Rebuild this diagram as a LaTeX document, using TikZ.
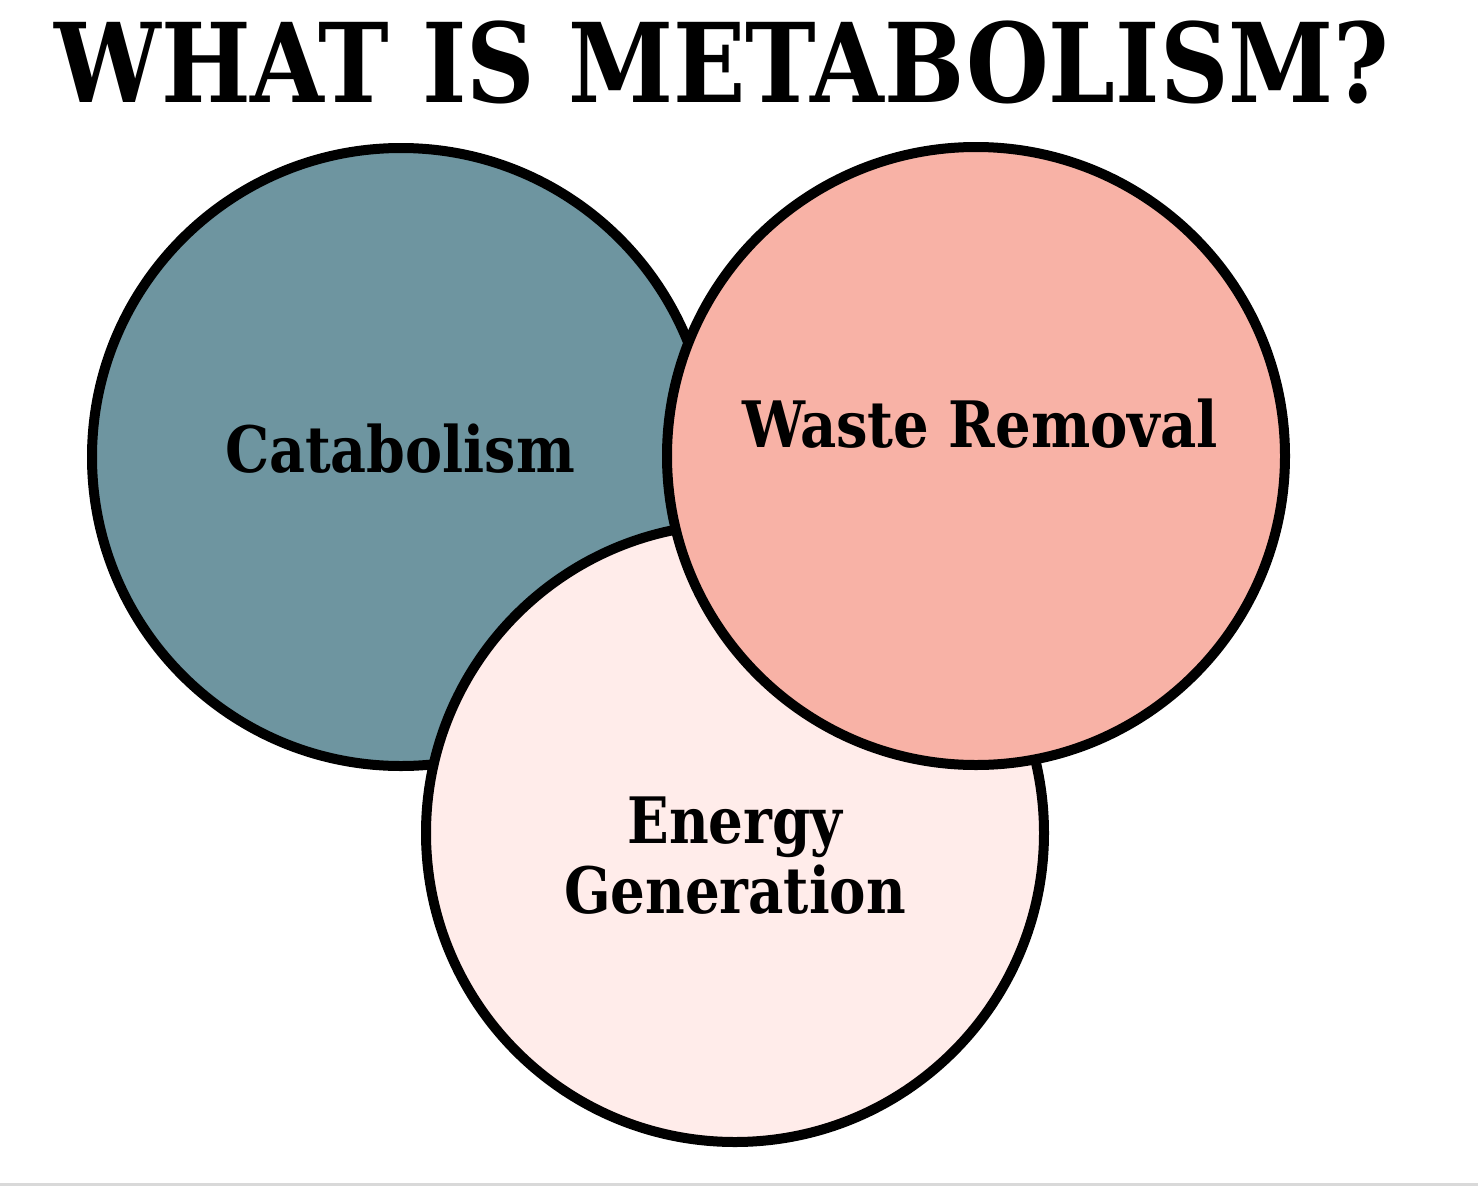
\documentclass[tikz,border=0pt]{standalone}
\usepackage{fontspec}
\usepackage{graphicx}
\setmainfont{DejaVu Serif}
\newfontfamily\titlefont{DejaVu Serif Condensed}
\definecolor{cteal}{HTML}{6E95A0}
\definecolor{csalmon}{HTML}{F8B2A6}
\definecolor{cpink}{HTML}{FFECEA}
\definecolor{cgray}{HTML}{D9D9D9}
\begin{document}
\begin{tikzpicture}[x=1pt,y=-1pt,
  blob/.style={draw=black,line width=10pt},
  lbl/.style={inner sep=0pt,anchor=base,text=black}]
\useasboundingbox (0,0) rectangle (1478,1186);
\fill[white] (0,0) rectangle (1478,1186);
\fill[cgray] (0,1183) rectangle (1478,1186);
% title
\node[lbl] (title) at (722,102) {\resizebox{1335pt}{\height}{\titlefont\bfseries\fontsize{110}{114}\selectfont WHAT IS METABOLISM?}};
% circles
\draw[blob,fill=cteal] (401,457) circle[radius=309] coordinate (cat);
\draw[blob,fill=cpink] (735,833) circle[radius=309] coordinate (ene);
\draw[blob,fill=csalmon] (976,456) circle[radius=309] coordinate (was);
% labels
\node[lbl] (catlbl) at (400,472) {\resizebox{350pt}{\height}{\bfseries\fontsize{64}{70}\selectfont Catabolism}};
\node[lbl] (waslbl) at (980,447) {\resizebox{476pt}{\height}{\bfseries\fontsize{64}{70}\selectfont Waste Removal}};
\node[lbl] (enelbl) at (735,843) {\fontsize{64}{70}\selectfont\begin{tabular}[t]{@{}c@{}}\resizebox{215pt}{\height}{\bfseries Energy}\\\resizebox{342pt}{\height}{\bfseries Generation}\end{tabular}};
\end{tikzpicture}
\end{document}
